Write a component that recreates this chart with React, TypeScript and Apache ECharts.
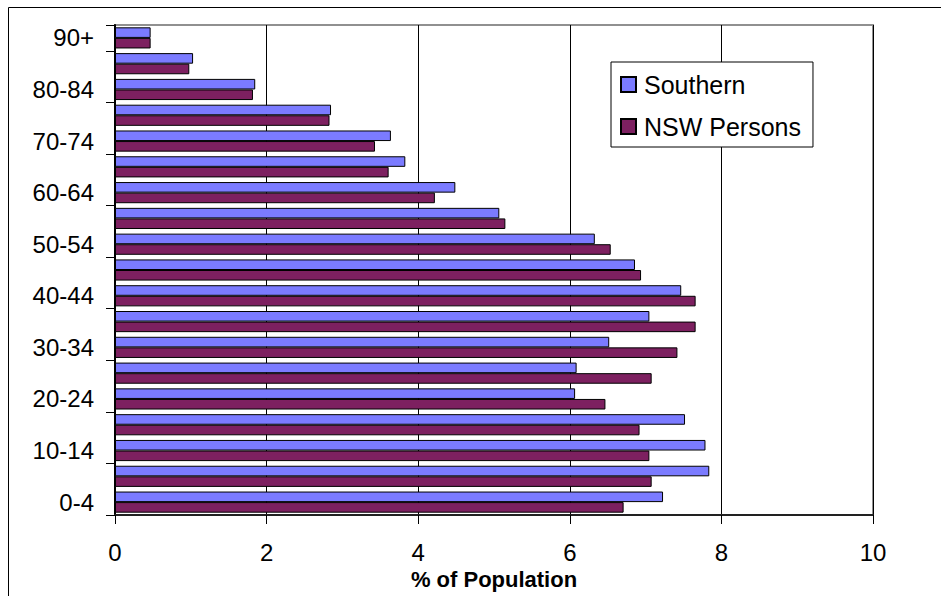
import React, { useEffect, useRef } from "react";
import * as echarts from "echarts";

const ageGroups = [
  "0-4", "5-9", "10-14", "15-19", "20-24", "25-29", "30-34", "35-39", "40-44",
  "45-49", "50-54", "55-59", "60-64", "65-69", "70-74", "75-79", "80-84", "85-89", "90+",
];
const southern = [
  7.23, 7.84, 7.79, 7.52, 6.07, 6.09, 6.52, 7.05, 7.47,
  6.86, 6.33, 5.07, 4.49, 3.83, 3.64, 2.85, 1.85, 1.03, 0.47,
];
const nswPersons = [
  6.71, 7.08, 7.05, 6.92, 6.47, 7.08, 7.42, 7.66, 7.66,
  6.94, 6.54, 5.15, 4.22, 3.61, 3.43, 2.83, 1.82, 0.98, 0.47,
];
const xTicks = { min: 0, max: 10, interval: 2 };
const seriesNames = ["Southern", "NSW Persons"];
const xTitle = "% of Population";

export default function App() {
  const ref = useRef<HTMLDivElement>(null);
  useEffect(() => {
    if (!ref.current) return;
    const chart = echarts.init(ref.current, undefined, { renderer: "svg" });
    const font = "'Liberation Sans', Arial, sans-serif";
    chart.setOption({
      animation: false,
      backgroundColor: "#ffffff",
      textStyle: { fontFamily: font, color: "#000" },
      grid: {
        left: 115,
        right: 68,
        top: 25,
        bottom: 81,
        show: true,
        borderColor: "#909090",
        borderWidth: 2,
        backgroundColor: "transparent",
      },
      legend: {
        orient: "vertical",
        left: 611,
        top: 62,
        padding: [10, 12, 8, 9],
        itemGap: 17,
        itemWidth: 15,
        itemHeight: 15,
        borderColor: "#000",
        borderWidth: 1,
        backgroundColor: "#fff",
        icon: "rect",
        textStyle: { fontSize: 25, color: "#000", fontFamily: font, padding: [0, 0, 0, 3] },
        data: seriesNames,
      },
      xAxis: {
        type: "value",
        min: xTicks.min,
        max: xTicks.max,
        interval: xTicks.interval,
        axisLine: { show: true, lineStyle: { color: "#222", width: 2 } },
        axisTick: { show: true, length: 9, lineStyle: { color: "#000" } },
        axisLabel: { fontSize: 24, color: "#000", margin: 25, fontFamily: font },
        splitLine: { show: true, lineStyle: { color: "#000", width: 1 } },
        name: xTitle,
        nameLocation: "middle",
        nameGap: 41,
        nameTextStyle: { fontSize: 22, fontWeight: "bold", color: "#000", fontFamily: font },
      },
      yAxis: {
        type: "category",
        data: ageGroups,
        axisLine: { show: true, lineStyle: { color: "#000", width: 2 } },
        axisTick: { show: true, length: 9, lineStyle: { color: "#000" } },
        axisLabel: { fontSize: 24, color: "#000", margin: 21, interval: 1, fontFamily: font },
        splitLine: { show: false },
      },
      series: [
        {
          name: seriesNames[0],
          type: "bar",
          data: southern,
          barGap: "0%",
          barCategoryGap: "18%",
          itemStyle: { color: "#7B7BFF", borderColor: "#000", borderWidth: 1 },
        },
        {
          name: seriesNames[1],
          type: "bar",
          data: nswPersons,
          barGap: "0%",
          barCategoryGap: "18%",
          itemStyle: { color: "#7D2060", borderColor: "#000", borderWidth: 1 },
        },
      ],
      graphic: [
        {
          type: "rect",
          silent: true,
          z: -10,
          shape: { x: 8.5, y: 7.5, width: 1200, height: 1200 },
          style: { fill: "none", stroke: "#000", lineWidth: 1 },
        },
      ],
    });
    return () => chart.dispose();
  }, []);
  return (
    <div
      ref={ref}
      style={{ position: "fixed", left: 0, top: 0, width: 941, height: 596 }}
    />
  );
}
